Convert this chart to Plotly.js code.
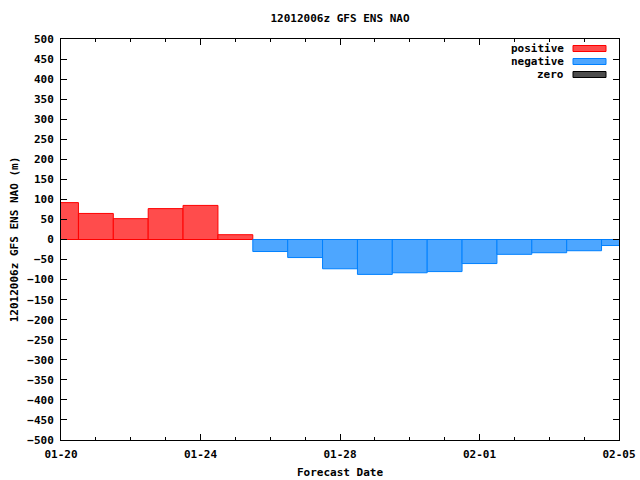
<!DOCTYPE html>
<html>
<head>
<meta charset="utf-8">
<script src="https://cdn.plot.ly/plotly-3.0.1.min.js"></script>
<style>
body { margin: 0; padding: 0; background: #fff; }
#chart { width: 640px; height: 480px; }
</style>
</head>
<body>
<div id="chart"></div>
<script>
// forecast dates (00z) and ensemble mean NAO values
var dates = ['2012-01-20', '2012-01-21', '2012-01-22', '2012-01-23', '2012-01-24', '2012-01-25',
    '2012-01-26', '2012-01-27', '2012-01-28', '2012-01-29', '2012-01-30', '2012-01-31',
    '2012-02-01', '2012-02-02', '2012-02-03', '2012-02-04', '2012-02-05'];
var nao = [92, 65, 52, 77, 85, 12, -30, -45, -73, -87, -83, -80, -60, -37, -33, -28, -15];
var seriesNames = ['positive', 'negative', 'zero'];
var fillColors = ['#ff4c4c', '#4da6ff', '#4d4d4d'];
var lineColors = ['#ff0000', '#0080ff', '#000000'];
var xTickVals = ['2012-01-20', '2012-01-24', '2012-01-28', '2012-02-01', '2012-02-05'];
var xTickText = ['01-20', '01-24', '01-28', '02-01', '02-05'];

var DAY = 86400000;
var fnt = {family: 'DejaVu Sans Mono', size: 11, color: '#000', weight: 'bold'};

var pos = nao.map(function(v) { return v > 0 ? v : null; });
var neg = nao.map(function(v) { return v < 0 ? v : null; });
var zer = nao.map(function(v) { return v === 0 ? 0 : null; });
var ys = [pos, neg, zer];

var data = [];
for (var i = 0; i < 3; i++) {
    data.push({
        x: dates,
        y: ys[i],
        type: 'bar',
        name: seriesNames[i],
        width: DAY,
        showlegend: false,
        hoverinfo: 'none',
        marker: {
            color: fillColors[i],
            line: {color: lineColors[i], width: 1}
        }
    });
}

// plot area in pixels: x 61..619, y 39..440
var px = function(x) { return (x - 61) / 558; };
var py = function(y) { return (440 - y) / 401; };

var shapes = [];
var annotations = [];
var legY = [48.5, 61.5, 74.5];
for (var k = 0; k < 3; k++) {
    shapes.push({
        type: 'rect', xref: 'paper', yref: 'paper',
        x0: px(573), x1: px(606), y0: py(legY[k] - 3), y1: py(legY[k] + 3),
        fillcolor: fillColors[k],
        line: {color: lineColors[k], width: 1}
    });
    annotations.push({
        xref: 'paper', yref: 'paper',
        x: px(566), y: py(legY[k]),
        xanchor: 'right', yanchor: 'middle',
        text: seriesNames[k], showarrow: false,
        font: fnt
    });
}

var layout = {
    width: 640,
    height: 480,
    margin: {l: 61, r: 21, t: 39, b: 40},
    paper_bgcolor: '#fff',
    plot_bgcolor: '#fff',
    font: fnt,
    barmode: 'overlay',
    title: {
        text: '12012006z GFS ENS NAO',
        font: fnt,
        x: 0.5, xref: 'paper',
        y: 1 - 18 / 480, yanchor: 'middle'
    },
    xaxis: {
        type: 'date',
        range: ['2012-01-20', '2012-02-05'],
        tickvals: xTickVals,
        ticktext: xTickText,
        ticks: 'inside',
        ticklen: 6,
        tickcolor: '#000',
        ticklabelstandoff: 4,
        showline: true,
        linecolor: '#000',
        linewidth: 1,
        mirror: 'allticks',
        showgrid: false,
        zeroline: false,
        tickfont: fnt,
        minor: {dtick: DAY, tick0: '2012-01-20', ticks: 'inside', ticklen: 3, tickcolor: '#000', showgrid: false},
        title: {text: 'Forecast Date', font: fnt, standoff: 8},
        fixedrange: true
    },
    yaxis: {
        range: [-500, 500],
        dtick: 50,
        ticks: 'inside',
        ticklen: 6,
        tickcolor: '#000',
        ticklabelstandoff: 4,
        showline: true,
        linecolor: '#000',
        linewidth: 1,
        mirror: 'allticks',
        showgrid: false,
        zeroline: true,
        zerolinecolor: '#000',
        zerolinewidth: 1,
        layer: 'above traces',
        tickfont: fnt,
        title: {text: '12012006z GFS ENS NAO (m)', font: fnt, standoff: 6},
        fixedrange: true
    },
    shapes: shapes,
    annotations: annotations
};

Plotly.newPlot('chart', data, layout, {displayModeBar: false, staticPlot: true});
</script>
</body>
</html>
